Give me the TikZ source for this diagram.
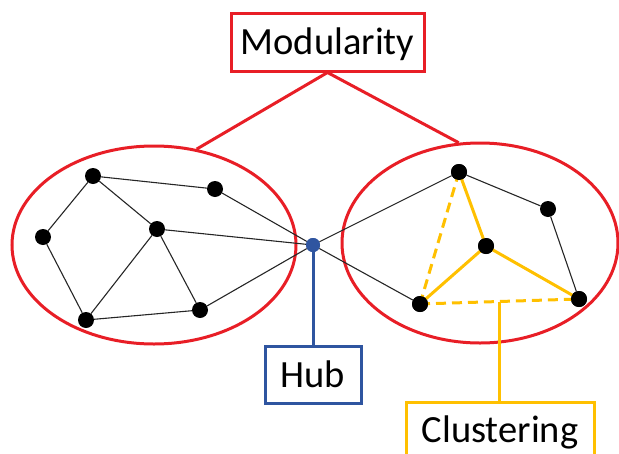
\documentclass[tikz,border=0pt]{standalone}
\usepackage{fontspec}
\setmainfont{Carlito}
\usetikzlibrary{shapes.geometric,calc}
\definecolor{mred}{RGB}{232,30,38}
\definecolor{mblue}{RGB}{47,85,160}
\definecolor{myel}{RGB}{255,192,0}
\tikzset{
  dot/.style={circle,fill=black,inner sep=0pt,minimum size=16pt},
  hubdot/.style={circle,fill=mblue,inner sep=0pt,minimum size=14pt},
  edge/.style={line width=1.1pt,black!85},
  yedge/.style={line width=3pt,myel},
  ydash/.style={line width=3pt,myel,dash pattern=on 10pt off 6pt},
  module/.style={ellipse,draw=mred,line width=3pt,inner sep=0pt},
  labelbox/.style={rectangle,draw,line width=3pt,inner sep=0pt,text height=25pt,text depth=0pt,font=\fontsize{38.5}{44}\selectfont},
}
\begin{document}
\begin{tikzpicture}[x=1pt,y=-1pt]
\clip (0,0) rectangle (619,453);
\useasboundingbox (0,0) rectangle (619,453);
% modules
\node[module,minimum width=284pt,minimum height=198pt] (L) at (154,245) {};
\node[module,minimum width=276pt,minimum height=200pt] (R) at (480,243) {};
% labels
\node[labelbox,draw=mred,minimum width=193pt,minimum height=58pt] (mod) at (327.5,42) {Modularity};
\node[labelbox,draw=mblue,minimum width=96pt,minimum height=57pt] (hubbox) at (313,374.5) {Hub};
\node[labelbox,draw=myel,minimum width=188pt,minimum height=56pt] (clu) at (500,430) {Clustering};
% nodes
\node[dot] (A) at (93,176) {};
\node[dot] (B) at (215,189) {};
\node[dot] (C) at (43,237) {};
\node[dot] (D) at (157,229) {};
\node[dot] (E) at (86,320) {};
\node[dot] (F) at (200,310) {};
\node[dot] (G) at (459,172) {};
\node[dot] (H) at (548,209) {};
\node[dot] (I) at (486,246) {};
\node[dot] (J) at (420,304) {};
\node[dot] (K) at (579,299) {};
\node[hubdot] (hub) at (313,245) {};
% black edges
\draw[edge] (A) -- (B);
\draw[edge] (A) -- (C);
\draw[edge] (A) -- (D);
\draw[edge] (C) -- (E);
\draw[edge] (D) -- (E);
\draw[edge] (D) -- (F);
\draw[edge] (E) -- (F);
\draw[edge] (B) -- (hub);
\draw[edge] (D) -- (hub);
\draw[edge] (F) -- (hub);
\draw[edge] (hub) -- (G);
\draw[edge] (hub) -- (J);
\draw[edge] (G) -- (H);
\draw[edge] (H) -- (K);
% yellow edges
\draw[yedge] (G.center) -- (I.center);
\draw[yedge] (I.center) -- (J.center);
\draw[yedge] (I.center) -- (K.center);
\draw[ydash] (G.center) -- (J.center);
\draw[ydash] (J.center) -- (K.center);
\coordinate (mid) at ($(J)!0.5!(K)$);
\draw[yedge] (mid) -- (mid |- clu.north);
% redraw dots on top
\foreach \n/\p in {G/{459,172},I/{486,246},J/{420,304},K/{579,299}}
  \fill (\p) circle (8pt);
% connectors
\draw[mred,line width=3pt] (L.66) -- (mod.south) -- (R.102);
\draw[mblue,line width=3pt] (hub.center) -- (hubbox.north);
\fill[mblue] (hub) circle (7pt);
\end{tikzpicture}
\end{document}
